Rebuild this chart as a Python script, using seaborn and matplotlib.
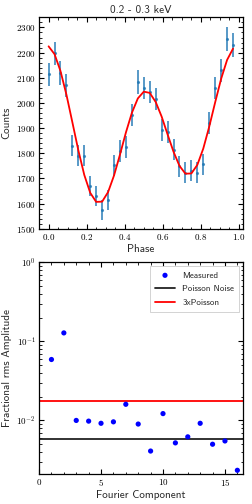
import numpy as np
import pandas as pd
import matplotlib
matplotlib.use("Agg")
import matplotlib.pyplot as plt
import seaborn as sns
from matplotlib.ticker import MultipleLocator, FuncFormatter, LogLocator, NullFormatter

# ---------------- data ----------------
title_text = "0.2 - 0.3 keV"
phase = [0.0, 0.03125, 0.0625, 0.09375, 0.125, 0.15625, 0.1875, 0.21875,
         0.25, 0.28125, 0.3125, 0.34375, 0.375, 0.40625, 0.4375, 0.46875,
         0.5, 0.53125, 0.5625, 0.59375, 0.625, 0.65625, 0.6875, 0.71875,
         0.75, 0.78125, 0.8125, 0.84375, 0.875, 0.90625, 0.9375, 0.96875]
counts = [2114, 2197, 2119, 2071, 1831, 1790, 1791, 1670,
          1630, 1576, 1614, 1753, 1809, 1826, 1952, 2083,
          2059, 2043, 2016, 1892, 1884, 1815, 1749, 1723,
          1730, 1723, 1756, 1919, 2060, 2130, 2253, 2230]
count_err = [46, 47, 46, 45.5, 43, 42, 42, 41,
             40, 40, 40, 42, 42.5, 43, 44, 46,
             45, 45, 45, 43.5, 43.5, 42.5, 42, 41.5,
             41.5, 41.5, 42, 44, 45, 46, 47.5, 47]
model = [2225, 2194, 2127, 2033, 1923, 1812, 1714, 1643,
         1607, 1608, 1646, 1712, 1795, 1883, 1961, 2018,
         2045, 2040, 2004, 1946, 1875, 1806, 1750, 1719,
         1720, 1754, 1819, 1906, 2003, 2096, 2171, 2216]

harmonic = [1, 2, 3, 4, 5, 6, 7, 8, 9, 10, 11, 12, 13, 14, 15, 16]
frac_rms = [0.059, 0.128, 0.0100, 0.0098, 0.0092, 0.0096, 0.0160, 0.0090,
            0.0041, 0.0122, 0.0052, 0.0062, 0.0092, 0.0050, 0.0055, 0.00234]
poisson_level = 0.0058
poisson3_level = 0.0174

df_lc = pd.DataFrame({"Phase": phase, "Counts": counts, "Err": count_err, "Model": model})
df_rms = pd.DataFrame({"Component": harmonic, "Amp": frac_rms})

# ---------------- style ----------------
sns.set_style("ticks")
plt.rcParams.update({
    "font.family": ["cmss10", "DejaVu Sans"],
    "mathtext.fontset": "cm",
    "axes.linewidth": 0.9,
    "xtick.direction": "in", "ytick.direction": "in",
    "xtick.top": True, "ytick.right": True,
    "xtick.major.size": 3.5, "ytick.major.size": 3.5,
    "xtick.minor.size": 1.8, "ytick.minor.size": 1.8,
    "xtick.minor.visible": True, "ytick.minor.visible": True,
    "xtick.color": "black", "ytick.color": "black",
    "axes.edgecolor": "black",
    "axes.formatter.use_mathtext": True,
})

fig = plt.figure(figsize=(2.52, 5.04), dpi=100)
ax1 = fig.add_axes([0.155, 0.546, 0.810, 0.420])
ax2 = fig.add_axes([0.155, 0.0595, 0.810, 0.420])

# ---------------- top: light curve ----------------
ax1.errorbar(df_lc["Phase"], df_lc["Counts"], yerr=df_lc["Err"], fmt=".",
             color="#1f77b4", ecolor="#1f77b4", elinewidth=1.4, alpha=0.75,
             markersize=2.5, capsize=0, zorder=2)
sns.lineplot(data=df_lc, x="Phase", y="Model", ax=ax1, color="red", lw=1.3,
             zorder=3, legend=False)
ax1.set_xlim(-0.05, 1.022)
ax1.set_ylim(1500, 2341)
ax1.xaxis.set_major_locator(MultipleLocator(0.2))
ax1.xaxis.set_minor_locator(MultipleLocator(0.05))
ax1.yaxis.set_major_locator(MultipleLocator(100))
ax1.yaxis.set_minor_locator(MultipleLocator(20))
ax1.xaxis.set_major_formatter(FuncFormatter(lambda v, p: f"${v:.1f}$"))
ax1.yaxis.set_major_formatter(FuncFormatter(lambda v, p: f"${v:.0f}$"))
ax1.tick_params(labelsize=6.5, pad=2.5)
ax1.set_xlabel("Phase", fontsize=8, labelpad=1)
ax1.set_ylabel("Counts", fontsize=8, labelpad=3)
ax1.set_title(title_text, fontsize=8, pad=3)

# ---------------- bottom: fractional rms ----------------
sns.scatterplot(data=df_rms, x="Component", y="Amp", ax=ax2, color="blue",
                s=14, edgecolor="none", label="Measured", zorder=3)
ax2.axhline(poisson_level, color="#222222", lw=1.3, label="Poisson Noise", zorder=2)
ax2.axhline(poisson3_level, color="red", lw=1.3, label="3xPoisson", zorder=2)
ax2.set_yscale("log")
ax2.set_xlim(0, 16.47)
ax2.set_ylim(0.0021, 1.0)
ax2.xaxis.set_major_locator(MultipleLocator(5))
ax2.xaxis.set_minor_locator(MultipleLocator(1))
ax2.xaxis.set_major_formatter(FuncFormatter(lambda v, p: f"${v:.0f}$"))
ax2.yaxis.set_major_locator(LogLocator(base=10))
ax2.yaxis.set_minor_locator(LogLocator(base=10, subs=np.arange(2, 10)))
ax2.yaxis.set_major_formatter(
    FuncFormatter(lambda v, p: f"$10^{{{int(round(np.log10(v)))}}}$"))
ax2.yaxis.set_minor_formatter(NullFormatter())
ax2.tick_params(labelsize=6.5, pad=2.5)
ax2.set_xlabel("Fourier Component", fontsize=8, labelpad=1)
ax2.set_ylabel("Fractional rms Amplitude", fontsize=8, labelpad=3)
leg = ax2.legend(loc="upper right", fontsize=6.5, frameon=True, fancybox=False,
                 edgecolor="0.8", framealpha=1.0, borderaxespad=0.45,
                 handlelength=2.2, labelspacing=0.6, borderpad=0.55)
leg.get_frame().set_linewidth(0.6)

fig.savefig("out.png", dpi=100)
